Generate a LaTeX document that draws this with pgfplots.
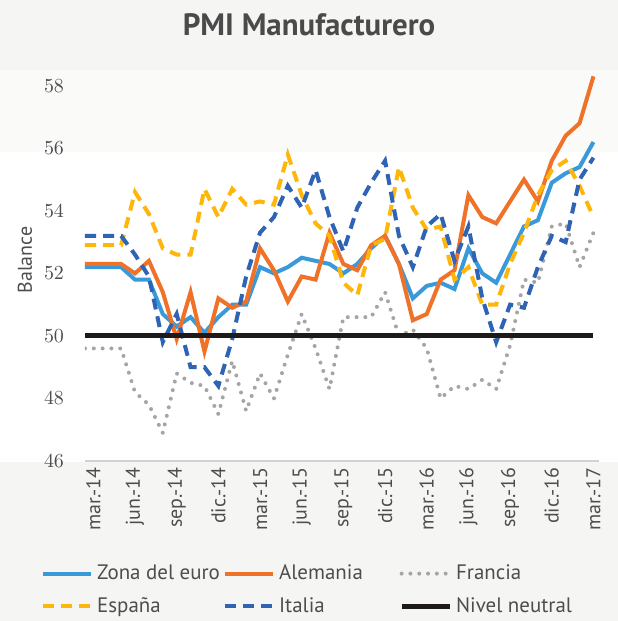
\documentclass[border=0pt]{standalone}
\usepackage{fontspec}
\setmainfont{PT Sans}
\usepackage{pgfplots}
\usepackage{pgfplotstable}
\pgfplotsset{compat=1.18}
\definecolor{bgc}{HTML}{F5F5F3}
\definecolor{topc}{HTML}{FAFAF9}
\definecolor{titlec}{HTML}{4A4A4A}
\definecolor{txtc}{HTML}{4D4D4D}
\definecolor{cZona}{HTML}{3A9AD9}
\definecolor{cAlem}{HTML}{F07229}
\definecolor{cFran}{HTML}{A5A5A5}
\definecolor{cEsp}{HTML}{FFB60A}
\definecolor{cIta}{HTML}{2F63B3}
\definecolor{cNiv}{HTML}{1E1A1A}

\pgfplotstableread{
i     zona  alem  fran  esp   ita
-0.6  52.2  52.3  49.6  52.9  53.2
0     52.2  52.3  49.6  52.9  53.2
1     52.2  52.3  49.6  52.9  53.2
2     52.2  52.3  49.6  52.9  53.2
3     51.8  52.0  48.2  54.6  52.6
4     51.8  52.4  47.8  53.9  51.9
5     50.7  51.4  46.9  52.8  49.8
6     50.3  49.9  48.8  52.6  50.7
7     50.6  51.4  48.5  52.6  49.0
8     50.1  49.5  48.4  54.7  49.0
9     50.6  51.2  47.5  53.8  48.4
10    51.0  50.9  49.2  54.7  49.9
11    51.0  51.1  47.6  54.2  51.9
12    52.2  52.8  48.8  54.3  53.3
13    52.0  52.1  48.0  54.2  53.8
14    52.2  51.1  49.4  55.8  54.8
15    52.5  51.9  50.7  54.5  54.1
16    52.4  51.8  49.6  53.6  55.3
17    52.3  53.3  48.3  53.2  53.8
18    52.0  52.3  50.6  51.7  52.7
19    52.3  52.1  50.6  51.3  54.1
20    52.8  52.9  50.6  52.9  54.9
21    53.2  53.2  51.4  53.1  55.6
22    52.3  52.3  50.0  55.4  53.2
23    51.2  50.5  50.2  54.1  52.2
24    51.6  50.7  49.6  53.4  53.5
25    51.7  51.8  48.0  53.5  53.9
26    51.5  52.1  48.4  51.8  52.4
27    52.8  54.5  48.3  52.2  53.5
28    52.0  53.8  48.6  51.0  51.2
29    51.7  53.6  48.3  51.0  49.8
30    52.6  54.3  49.7  52.3  51.0
31    53.5  55.0  51.8  53.3  50.9
32    53.7  54.3  51.7  54.5  52.2
33    54.9  55.6  53.5  55.3  53.2
34    55.2  56.4  53.6  55.6  53.0
35    55.4  56.8  52.2  54.8  55.0
36    56.2  58.3  53.3  53.8  55.7
}\datatable

\begin{document}
\begin{tikzpicture}
\useasboundingbox (0bp,0bp) rectangle (309bp,310.5bp);
\fill[bgc] (0bp,0bp) rectangle (309bp,310.5bp);
\fill[topc] (0bp,234.5bp) rectangle (309bp,275.5bp);
\fill[white] (0bp,79.5bp) rectangle (309bp,234.5bp);
\node[font=\bfseries\fontsize{15.5}{18}\selectfont, text=titlec] at (154.5bp,298bp) {PMI Manufacturero};
\begin{axis}[
  at={(42.5bp,80bp)}, anchor=south west,
  width=257bp, height=197bp, scale only axis,
  xmin=-0.6, xmax=36.4, ymin=46, ymax=58.6,
  axis x line*=bottom, axis y line*=left,
  x axis line style={-, draw=black!18, line width=0.8bp},
  y axis line style={draw=none},
  major tick length=0pt,
  xtick={0,3,...,36},
  xticklabels={mar.-14,jun.-14,sep.-14,dic.-14,mar.-15,jun.-15,sep.-15,dic.-15,mar.-16,jun.-16,sep.-16,dic.-16,mar.-17},
  xticklabel style={rotate=90, anchor=east, font=\fontsize{10}{12}\selectfont, text=txtc},
  ytick={46,48,...,58},
  yticklabel style={font=\fontsize{10}{12}\selectfont, text=txtc, xshift=-7bp},
  ylabel={Balance},
  ylabel style={at={(axis description cs:-0.117,0.51)}, anchor=center, font=\fontsize{10}{12}\selectfont, text=txtc},
  legend columns=3,
  legend image code/.code={\draw[#1] (0bp,0bp) -- (24bp,0bp);},
  legend style={draw=none, fill=none, inner sep=0pt, at={(axis description cs:-0.086,-0.252)}, anchor=north west,
    font=\fontsize{10.5}{12.5}\selectfont, text=txtc, row sep=3.5bp},
]
\addplot[cZona, line width=2bp] table[x=i, y=zona] {\datatable};
\addlegendentry{\makebox[61bp][l]{Zona del euro}}
\addplot[cAlem, line width=2bp] table[x=i, y=alem] {\datatable};
\addlegendentry{\makebox[58bp][l]{Alemania}}
\addplot[cFran, line width=2bp, line cap=round, dash pattern=on 0bp off 4.4bp] table[x=i, y=fran] {\datatable};
\addlegendentry{\makebox[57bp][l]{Francia}}
\addplot[cEsp, line width=2bp, dash pattern=on 5.5bp off 3.5bp] table[x=i, y=esp] {\datatable};
\addlegendentry{\makebox[61bp][l]{España}}
\addplot[cIta, line width=2bp, dash pattern=on 5.5bp off 3.5bp] table[x=i, y=ita] {\datatable};
\addlegendentry{\makebox[58bp][l]{Italia}}
\addplot[cNiv, line width=2.5bp] coordinates {(-0.6,50) (36,50)};
\addlegendentry{\makebox[57bp][l]{Nivel neutral}}
\end{axis}
\end{tikzpicture}
\end{document}
